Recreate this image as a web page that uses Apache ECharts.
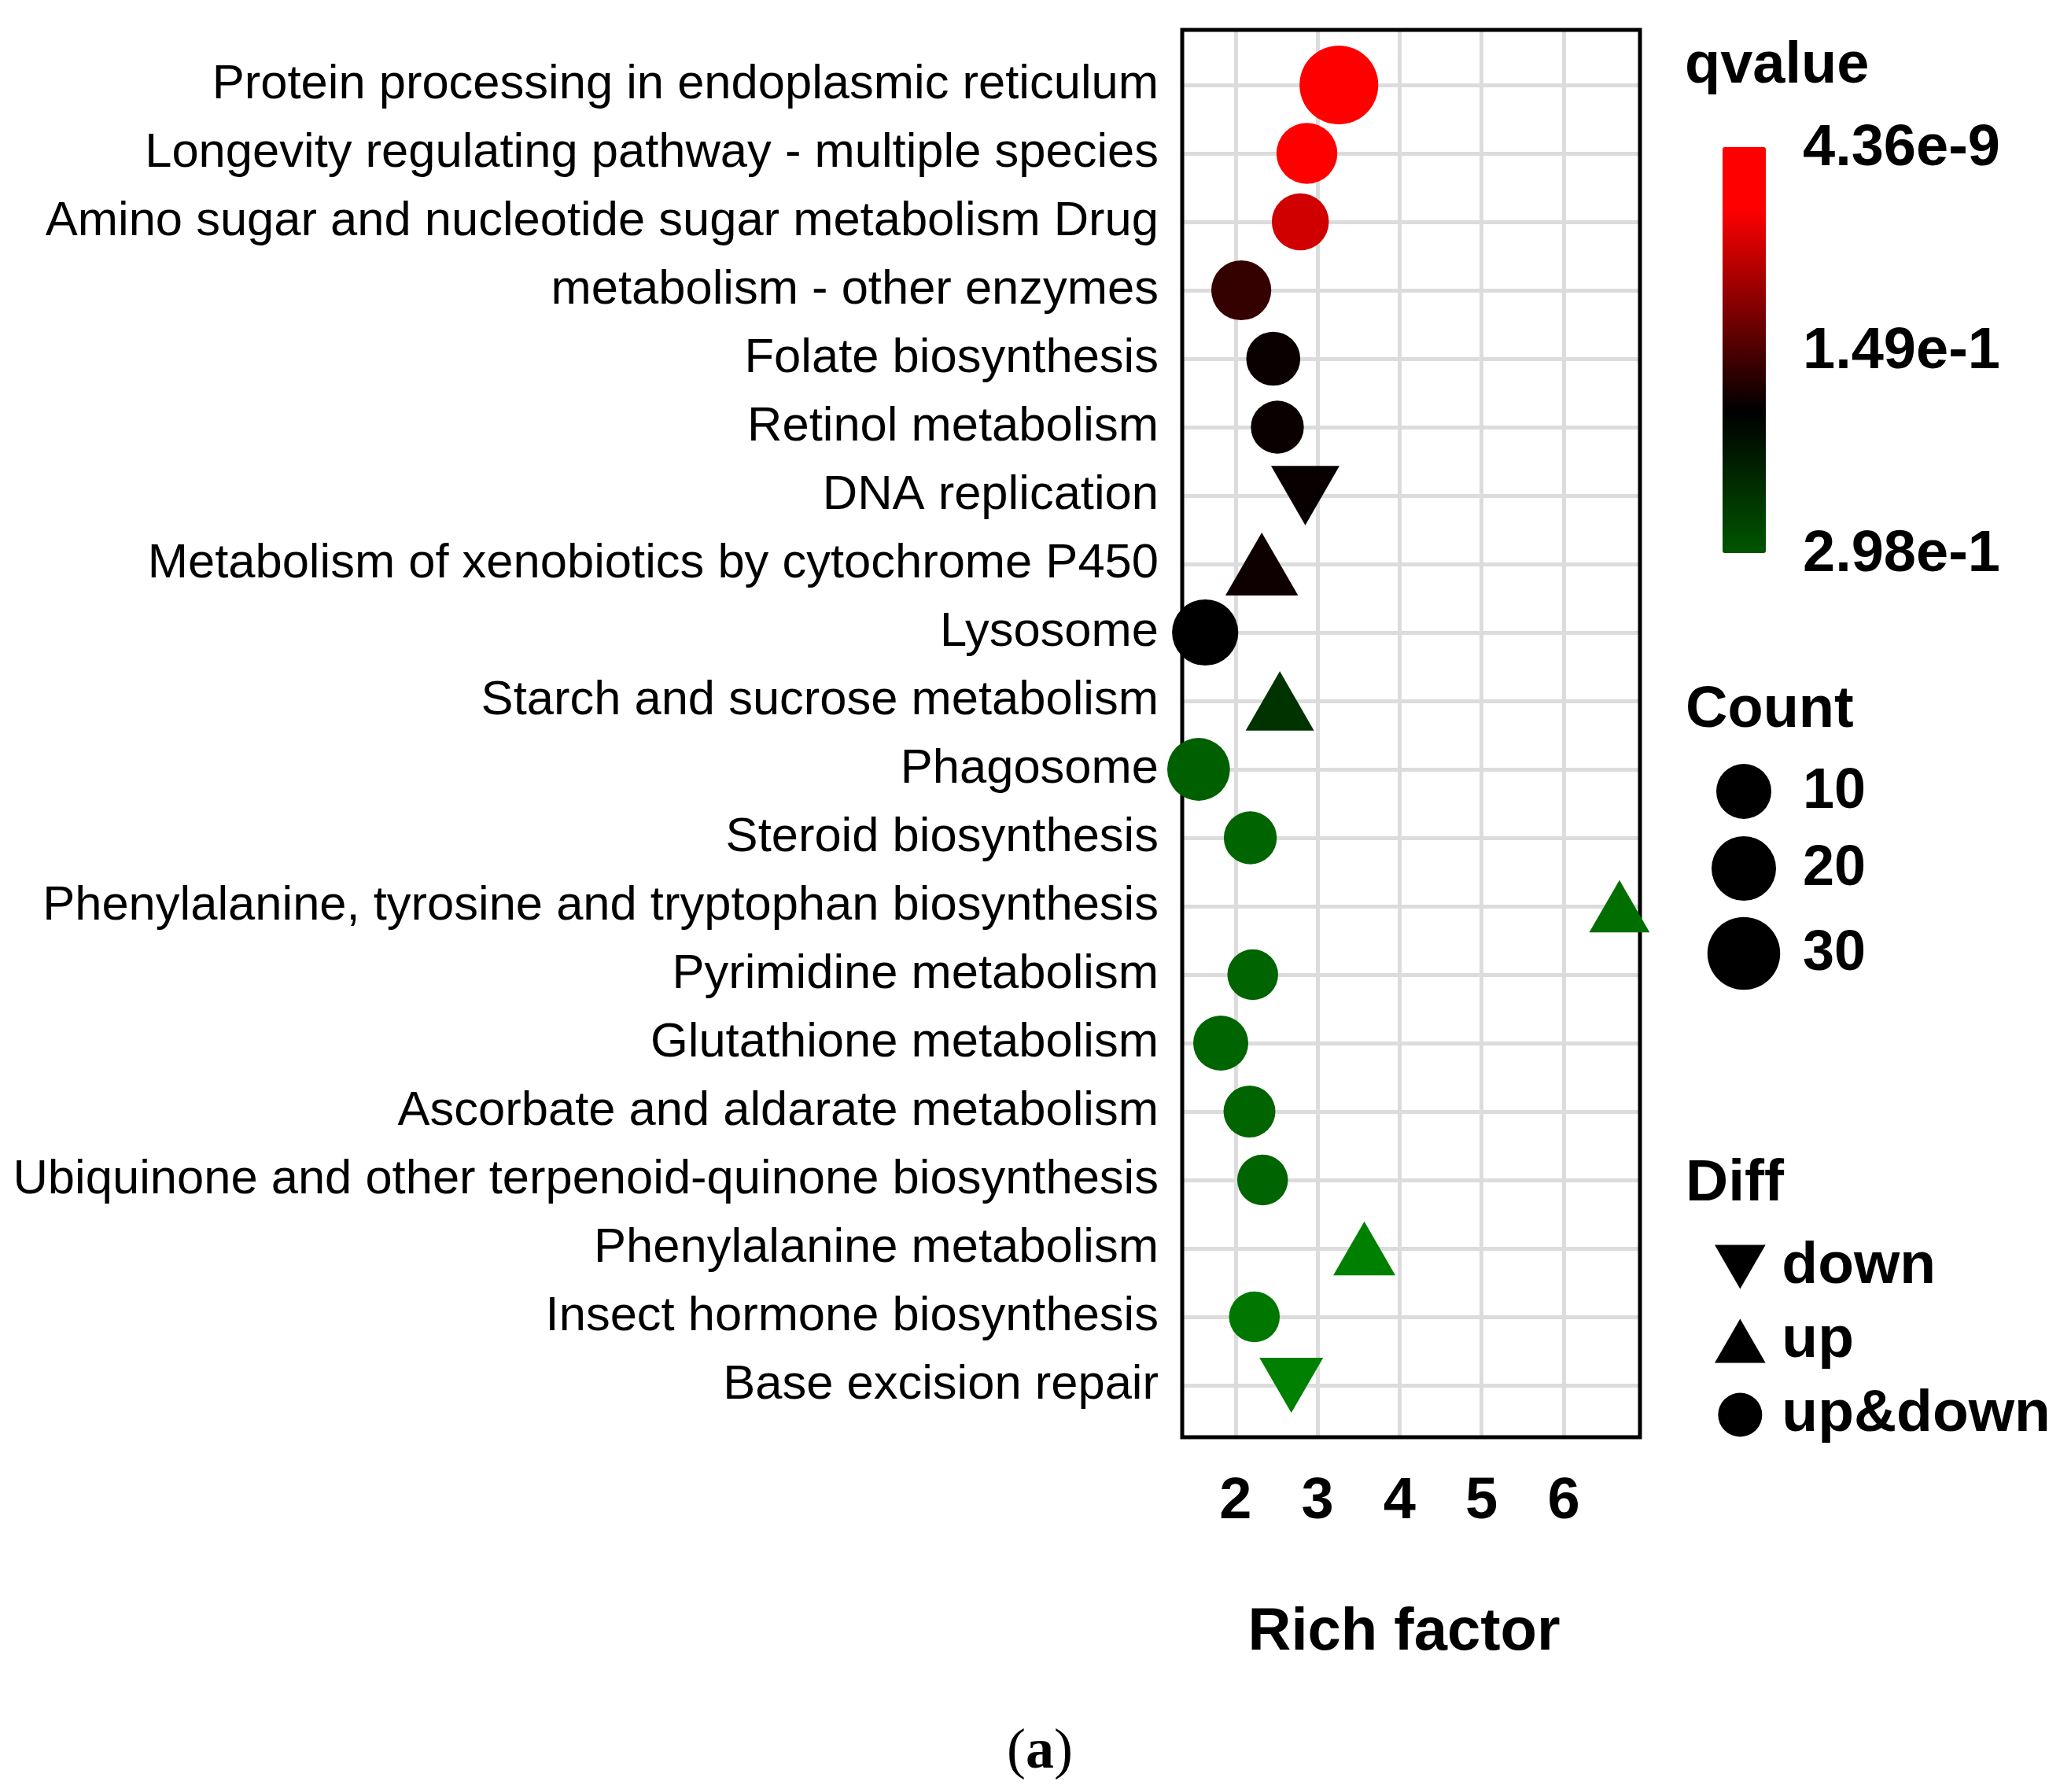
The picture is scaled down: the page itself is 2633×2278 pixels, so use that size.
<!DOCTYPE html>
<html><head><meta charset="utf-8">
<script src="https://cdn.jsdelivr.net/npm/echarts@6.0.0/dist/echarts.min.js"></script>
<style>html,body{margin:0;padding:0;background:#fff}#c{width:2633px;height:2278px}</style>
</head><body><div id="c"></div><script>
// ---- data ----
const categories = [
  'Protein processing in endoplasmic reticulum',
  'Longevity regulating pathway - multiple species',
  'Amino sugar and nucleotide sugar metabolism Drug',
  'metabolism - other enzymes',
  'Folate biosynthesis',
  'Retinol metabolism',
  'DNA replication',
  'Metabolism of xenobiotics by cytochrome P450',
  'Lysosome',
  'Starch and sucrose metabolism',
  'Phagosome',
  'Steroid biosynthesis',
  'Phenylalanine, tyrosine and tryptophan biosynthesis',
  'Pyrimidine metabolism',
  'Glutathione metabolism',
  'Ascorbate and aldarate metabolism',
  'Ubiquinone and other terpenoid-quinone biosynthesis',
  'Phenylalanine metabolism',
  'Insect hormone biosynthesis',
  'Base excision repair'
];
const richFactor = [3.26, 2.87, 2.79, 2.07, 2.46, 2.51, 2.85, 2.32, 1.63, 2.54, 1.55, 2.18, 6.68, 2.21, 1.82, 2.17, 2.33, 3.57, 2.23, 2.68];
const geneCount  = [38, 16, 12, 15, 9, 8, 6, 9, 22, 6, 18, 8, 1, 6, 10, 7, 6, 2, 6, 3];
const qValue     = [4.36e-9, 0.036, 0.072, 0.163, 0.188, 0.188, 0.189, 0.185, 0.194, 0.235, 0.272, 0.275, 0.283, 0.275, 0.275, 0.275, 0.275, 0.298, 0.291, 0.298];
const diffType   = ['up&down','up&down','up&down','up&down','up&down','up&down','down','up','up&down','up','up&down','up&down','up','up&down','up&down','up&down','up&down','up','up&down','down'];
const diffLevels = ['down', 'up', 'up&down'];
const qTickLabels = ['4.36e-9', '1.49e-1', '2.98e-1'];
const qTickValues = [4.36e-9, 0.149, 0.298];
const countBreaks = [10, 20, 30];
const xMin = 1.35, xMax = 6.93;

// ---- scales / styles ----
const FONT = 'Liberation Sans, Arial, sans-serif';
const qMin = 4.36e-9, qMax = 0.298;
const pointColors = ['#FF0000','#FF0000','#FF0000','#FF0000','#E60000','#CC0000','#B30000','#990000','#800000','#660000','#4D0000','#330000','#1A0000','#000000','#001200','#002500','#003700','#004900','#005B00','#006E00','#008000'];
const barColors   = ['#FF0000','#FF0000','#FF0000','#FF0000','#E60000','#CC0000','#B30000','#990000','#800000','#660000','#4D0000','#330000','#1A0000','#000000','#000C00','#001800','#002400','#003100','#003D00','#004900','#005500'];
function sizeFn(c) { return Math.sqrt(3072 + 182.8 * c); }
const downPath = 'path://M0,0L200,0L100,173.2Z';
const upPath = 'path://M100,0L200,173.2L0,173.2Z';
const symbolFor = { 'down': downPath, 'up': upPath, 'up&down': 'circle' };

const series = diffLevels.map(function (lvl) {
  const data = [];
  categories.forEach(function (cat, i) {
    if (diffType[i] === lvl) data.push([richFactor[i], cat, geneCount[i], qValue[i]]);
  });
  return {
    name: lvl, type: 'scatter', xAxisIndex: 1, yAxisIndex: 1,
    symbol: symbolFor[lvl],
    symbolKeepAspect: false,
    symbolSize: function (v) {
      const d = sizeFn(v[2]);
      if (lvl === 'up&down') return d;
      const w = d * 1.347; return [w, w * 0.866];
    },
    itemStyle: { color: '#000', opacity: 1 },
    emphasis: { disabled: true },
    data: data, z: 3
  };
});

// ---- legend graphics ----
const bar = { left: 2190, top: 187, w: 55, h: 516 };
const graphics = [];
graphics.push({ type: 'text', x: 2142, y: 85, style: { text: 'qvalue', fontSize: 74, fontWeight: 'bold', fontFamily: FONT, fill: '#000', align: 'left', verticalAlign: 'middle' } });
qTickLabels.forEach(function (t, i) {
  const y = bar.top + bar.h * (qTickValues[i] - qMin) / (qMax - qMin) + 3;
  graphics.push({ type: 'text', x: 2292, y: y, style: { text: t, fontSize: 74, fontWeight: 'bold', fontFamily: FONT, fill: '#000', align: 'left', verticalAlign: 'middle' } });
});
graphics.push({ type: 'text', x: 2143, y: 904, style: { text: 'Count', fontSize: 74, fontWeight: 'bold', fontFamily: FONT, fill: '#000', align: 'left', verticalAlign: 'middle' } });
const countKeyY = [1006, 1104, 1212];
countBreaks.forEach(function (c, i) {
  graphics.push({ type: 'circle', shape: { cx: 2217, cy: countKeyY[i], r: sizeFn(c) / 2 }, style: { fill: '#000' } });
  graphics.push({ type: 'text', x: 2292, y: countKeyY[i] + 1, style: { text: String(c), fontSize: 72, fontWeight: 'bold', fontFamily: FONT, fill: '#000', align: 'left', verticalAlign: 'middle' } });
});
graphics.push({ type: 'text', x: 2143, y: 1505, style: { text: 'Diff', fontSize: 75, fontWeight: 'bold', fontFamily: FONT, fill: '#000', align: 'left', verticalAlign: 'middle' } });
graphics.push({ type: 'text', x: 1322, y: 2228, style: {
  text: '{p|(}{b|a}{p|)}', align: 'center', verticalAlign: 'middle',
  rich: { p: { fontFamily: 'Liberation Serif, Times New Roman, serif', fontSize: 72, fill: '#000' },
          b: { fontFamily: 'Liberation Serif, Times New Roman, serif', fontSize: 72, fontWeight: 'bold', fill: '#000' } } } });

const option = {
  backgroundColor: '#fff',
  animation: false,
  grid: [
    { left: 1503, top: 38, width: 582, height: 1789, show: true, backgroundColor: 'transparent', borderColor: '#000', borderWidth: 5, z: 1 },
    { left: 1503, top: 108, width: 582, height: 1653 }
  ],
  xAxis: [
    { type: 'value', gridIndex: 0, min: xMin, max: xMax,
      axisLine: { show: false }, axisTick: { show: false },
      axisLabel: { margin: 46, fontSize: 74, fontWeight: 'bold', fontFamily: FONT, color: '#000', showMinLabel: false, showMaxLabel: false,
        formatter: function (v) { return Math.abs(v - Math.round(v)) < 1e-9 ? String(Math.round(v)) : ''; } },
      splitLine: { show: true, showMinLine: false, showMaxLine: false, lineStyle: { color: '#DCDCDC', width: 5 } },
      name: 'Rich factor', nameLocation: 'middle', nameGap: 211,
      nameTextStyle: { fontSize: 76, fontWeight: 'bold', fontFamily: FONT, color: '#000', padding: [0, 18, 0, 0] } },
    { type: 'value', gridIndex: 1, min: xMin, max: xMax, show: false, splitLine: { show: false } }
  ],
  yAxis: [
    { type: 'value', gridIndex: 0, min: 0, max: 1, show: false, splitLine: { show: false } },
    { type: 'category', gridIndex: 1, data: categories, inverse: true, boundaryGap: false,
      axisLine: { show: false }, axisTick: { show: false },
      axisLabel: { interval: 0, margin: 30, fontSize: 61.5, fontFamily: FONT, color: '#000' },
      splitLine: { show: true, interval: 0, lineStyle: { color: '#DCDCDC', width: 5 } } }
  ],
  visualMap: {
    type: 'continuous', min: qMin, max: qMax, dimension: 3, seriesIndex: [0, 1, 2],
    inverse: true, orient: 'vertical', left: bar.left, top: bar.top, padding: 0,
    itemWidth: bar.w, itemHeight: bar.h, calculable: false, hoverLink: false,
    text: null, showLabel: false,
    inRange: { color: pointColors },
    controller: { inRange: { color: barColors } }
  },
  legend: {
    orient: 'vertical', left: 2180, top: 1573, padding: 0,
    itemWidth: 96, itemHeight: 56, itemGap: 19, selectedMode: false,
    itemStyle: { color: '#000', borderWidth: 0 },
    textStyle: { fontSize: 75, fontWeight: 'bold', fontFamily: FONT, color: '#000', lineHeight: 75 },
    data: diffLevels.map(function (l) { return { name: l, icon: symbolFor[l] }; })
  },
  graphic: graphics,
  series: series
};
const chart = echarts.init(document.getElementById('c'), null, { renderer: 'canvas' });
chart.setOption(option);
</script></body></html>
